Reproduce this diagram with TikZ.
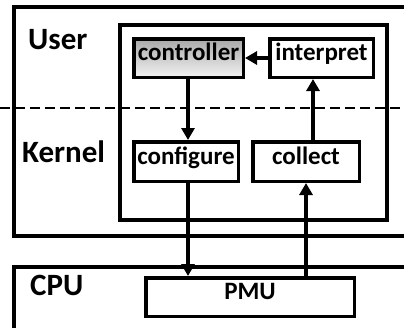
\documentclass[tikz,border=0pt]{standalone}
\usepackage{fontspec}
\setmainfont{Carlito}
\usetikzlibrary{arrows.meta}

\begin{document}
\begin{tikzpicture}[x=1pt, y=-1pt,
		box/.style={draw, line width=3.5pt, fill=white, inner sep=0pt, text height=0.7em, text depth=0.2em, font=\fontsize{25}{30}\selectfont\bfseries},
		layer/.style={anchor=west, inner sep=0pt, font=\fontsize{31}{36}\selectfont\bfseries},
		flow/.style={line width=3.5pt, -{Triangle[length=12pt, width=13pt]}}]
		\useasboundingbox (0,0) rectangle (404,327);
		\clip (0,0) rectangle (404,327);
		% Draw layer frames
		\draw[line width=3.5pt] (14,7) rectangle (430,236);
		\draw[line width=3.5pt] (14,267) rectangle (430,350);
		\draw[line width=3.5pt] (120,25) rectangle (387,220);
		\draw[line width=2.8pt, dash pattern=on 10pt off 5pt] (0,108) -- (404,108);
		
		% Layer names
		\node[layer] (user) at (28,39.5) {User};
		\node[layer] (kernel) at (22,151.5) {Kernel};
		\node[layer] (cpu) at (30,285) {CPU};
		
		% Boxes
		\node[box, minimum width=109.5, minimum height=38.5, top color=black!34, bottom color=black!5] (controller) at (188.5,58) {controller};
		\node[box, minimum width=103.5, minimum height=38.5] (interpret) at (321.5,58) {interpret};
		\node[box, minimum width=104.5, minimum height=39.5] (configure) at (186,161.5) {configure};
		\node[box, minimum width=106.5, minimum height=39.5] (collect) at (306,161.5) {collect};
		\node[box, minimum width=208.5, minimum height=38.5] (pmu) at (250,297) {PMU};
		
		% Arrows
		\draw[flow] (interpret.west) -- (controller.east);
		\draw[flow] ([xshift=-0.5pt]controller.south) -- ([xshift=-0.5pt]controller.south |- configure.north);
		\draw[flow] ([xshift=-0.5pt]controller.south |- configure.south) -- ([xshift=-0.5pt]controller.south |- pmu.north);
		\draw[flow] (collect.south |- pmu.north) -- (collect.south);
		\draw[flow] ([xshift=7pt]collect.north) -- ([xshift=7pt]collect.north |- interpret.south);
	\end{tikzpicture}
\end{document}
